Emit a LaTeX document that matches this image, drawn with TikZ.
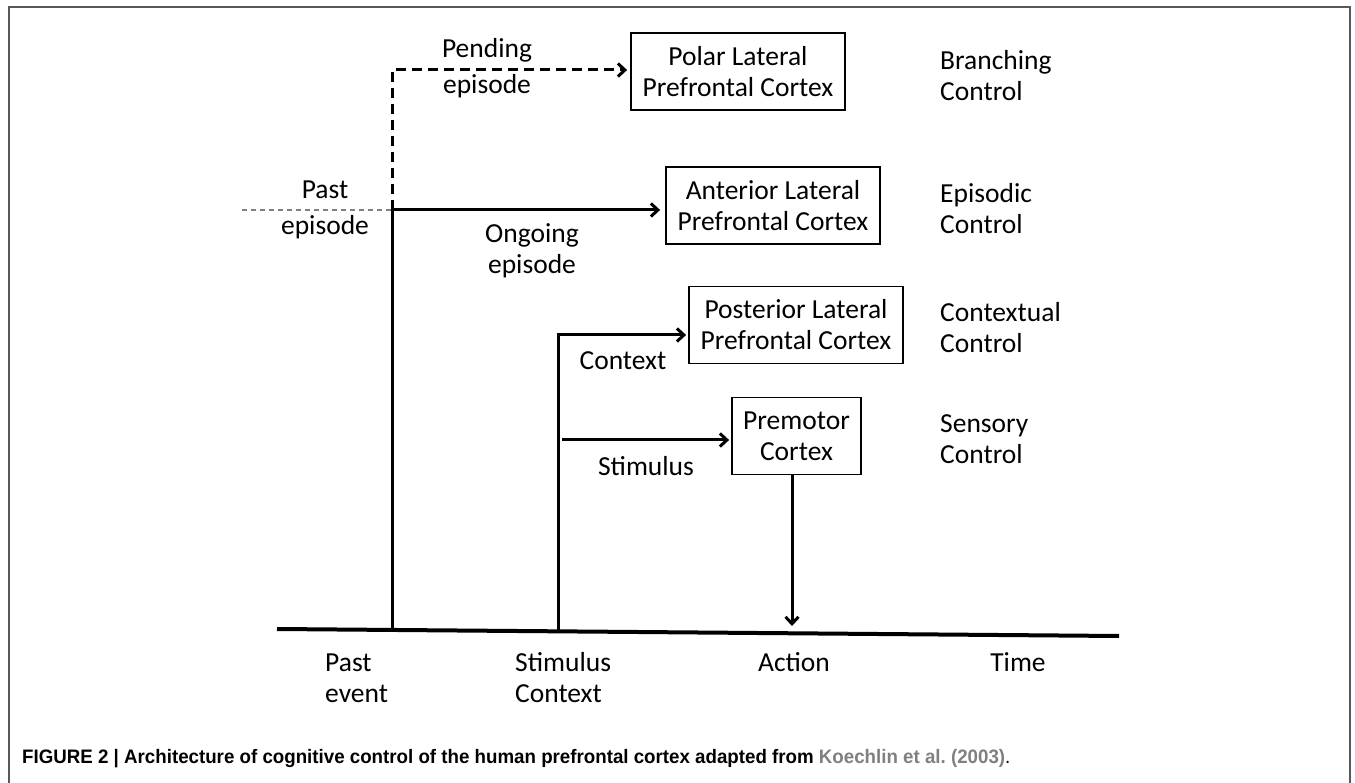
\documentclass[tikz,border=0pt]{standalone}
\usepackage{fontspec}
\setmainfont{Carlito}
\newfontfamily\capfont[FakeStretch=0.96]{Liberation Sans}
\usetikzlibrary{positioning,arrows.meta}
\definecolor{framegray}{gray}{0.35}
\definecolor{citegray}{gray}{0.5}
\tikzset{
  region/.style={draw, line width=1.8pt, minimum width=214pt, minimum height=77pt, align=center, inner sep=2pt},
  ctrl/.style={anchor=west, align=left, inner sep=0pt},
  lbl/.style={align=center, inner sep=0pt},
  wide/.style={font=\fontsize{27.5}{36}\selectfont},
  flow/.style={line width=3pt},
  pend/.style={line width=3pt, dash pattern=on 10pt off 6pt},
  past/.style={line width=1.6pt, gray, dash pattern=on 5pt off 4pt},
  timeline/.style={line width=4pt}
}
\begin{document}
\begin{tikzpicture}[x=1pt, y=-1pt, font=\fontsize{27.5}{31}\selectfont,
  >={Straight Barb[length=7pt,width=13pt]}]
\useasboundingbox (0,0) rectangle (1355,783);
\clip (0,0) rectangle (1355,783);
\draw[framegray, line width=1.5pt] (9,7) rectangle (1350,800);

% cortex regions
\node[region] (polar) at (738,71.5) {Polar Lateral\\Prefrontal Cortex};
\node[region] (anterior) at (773,205.5) {Anterior Lateral\\Prefrontal Cortex};
\node[region] (posterior) at (796,325) {Posterior Lateral\\Prefrontal Cortex};
\node[region, minimum width=129pt] (premotor) at (796.5,436) {Premotor\\Cortex};

% kinds of control
\node[ctrl] (branching) at (940,76) {Branching\\Control};
\node[ctrl] (episodic) at (940,209) {Episodic\\Control};
\node[ctrl] (contextual) at (940,328) {Contextual\\Control};
\node[ctrl] (sensory) at (940,439) {Sensory\\Control};

% time axis
\coordinate (t0) at (277,629);
\coordinate (t1) at (1119,636);
\draw[timeline] (t0) -- (t1);

% past event
\coordinate (pastev) at (392,630);
\coordinate (pe) at (392,210);
\coordinate (pendtop) at (392,70);
\coordinate (pastend) at (242,210);
\draw[past] (pastend) -- (pe);
\draw[flow] (pastev) -- (pe);
\draw[pend,->,shorten >=3pt] (pe) -- (pendtop) -- (pendtop -| polar.west);
\draw[flow,->,shorten >=5pt] (pe) -- (pe -| anterior.west);

% stimulus and context
\coordinate (stim) at (558,631.5);
\coordinate (ctx) at (558,335);
\coordinate (sti) at (562,440);
\draw[flow,->,shorten >=2pt] (stim) -- (ctx) -- (ctx -| posterior.west);
\draw[flow,->,shorten >=2pt] (sti) -- (sti -| premotor.west);

% action
\coordinate (act) at (792,626);
\draw[flow,->] (act |- premotor.south) -- (act);

% labels
\node[lbl, wide] (pending) at (487,68) {Pending\\episode};
\node[lbl, wide] (pastep) at (325,210) {Past\\episode};
\node[lbl] (ongoing) at (532,251) {Ongoing\\episode};
\node[lbl] (context) at (623,361) {Context};
\node[lbl] (stimulus) at (646,466) {Stimulus};
\node[lbl, anchor=base west, align=left] (pastevent) at (325,702) {Past\\event};
\node[lbl, anchor=base west, align=left] (stimctx) at (515,702) {Stimulus\\Context};
\node[lbl, anchor=base] (action) at (794,671) {Action};
\node[lbl, anchor=base] (time) at (1018,671) {Time};

% caption
\node[anchor=west, inner sep=0pt, font=\capfont\bfseries\fontsize{19.5}{21}\selectfont] (caption) at (22,759)
  {FIGURE 2 | Architecture of cognitive control of the human prefrontal cortex adapted from \textcolor{citegray}{Koechlin et al.\ (2003)}{\mdseries .}};
\end{tikzpicture}
\end{document}
